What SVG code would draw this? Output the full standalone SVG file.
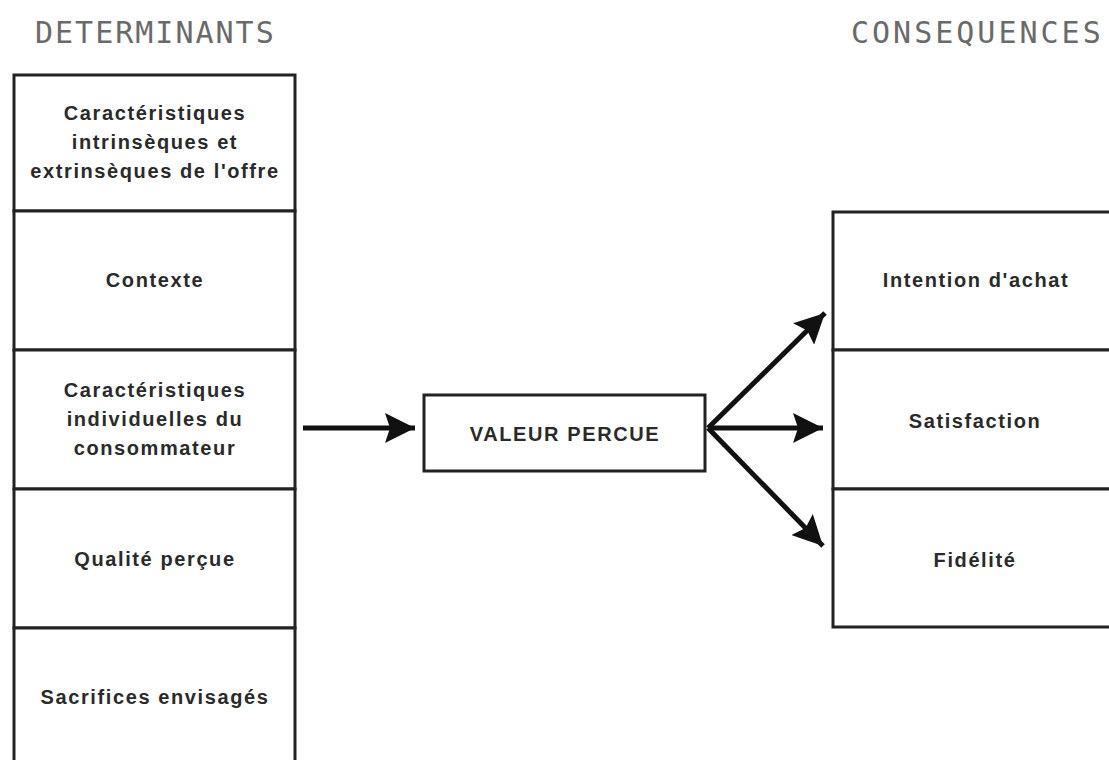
<svg xmlns="http://www.w3.org/2000/svg" width="1109" height="760" viewBox="0 0 1109 760">
<style>
.box{fill:#fff;stroke:#222;stroke-width:3}
.t{font-family:"Liberation Sans",Arial,sans-serif;font-weight:bold;font-size:20px;letter-spacing:1.6px;fill:#2a2a2a;text-anchor:middle}
.h{font-family:"DejaVu Sans Mono","Liberation Mono",monospace;font-size:30px;letter-spacing:2px;fill:#6a6a6a}
.c{fill:none;stroke:#111;stroke-width:5}
</style>
<defs>
<marker id="ah" markerUnits="userSpaceOnUse" markerWidth="32" markerHeight="30" refX="30" refY="15" orient="auto">
<path d="M0,0 L30,15 L0,30 L5,15 Z" fill="#111"/>
</marker>
</defs>
<rect width="1109" height="760" fill="#fff"/>
<text class="h" x="35" y="43">DETERMINANTS</text>
<text class="h" x="851" y="43" style="letter-spacing:3px">CONSEQUENCES</text>
<g id="d1"><rect class="box" x="14" y="75" width="281" height="136"/>
<text class="t" x="155" y="120">Caractéristiques</text><text class="t" x="155" y="149">intrinsèques et</text><text class="t" x="155" y="178">extrinsèques de l'offre</text></g>
<g id="d2"><rect class="box" x="14" y="211" width="281" height="139"/>
<text class="t" x="155" y="287">Contexte</text></g>
<g id="d3"><rect class="box" x="14" y="350" width="281" height="139"/>
<text class="t" x="155" y="397">Caractéristiques</text><text class="t" x="155" y="426">individuelles du</text><text class="t" x="155" y="455">consommateur</text></g>
<g id="d4"><rect class="box" x="14" y="489" width="281" height="139"/>
<text class="t" x="155" y="566">Qualité perçue</text></g>
<g id="d5"><rect class="box" x="14" y="628" width="281" height="139"/>
<text class="t" x="155" y="704">Sacrifices envisagés</text></g>
<g id="v"><rect class="box" x="424" y="395" width="281" height="76"/>
<text class="t" x="565" y="441">VALEUR PERCUE</text></g>
<g id="c1"><rect class="box" x="833" y="212" width="284" height="138"/>
<text class="t" x="976" y="287">Intention d'achat</text></g>
<g id="c2"><rect class="box" x="833" y="350" width="284" height="139"/>
<text class="t" x="975" y="428">Satisfaction</text></g>
<g id="c3"><rect class="box" x="833" y="489" width="284" height="138"/>
<text class="t" x="975" y="567">Fidélité</text></g>
<g id="connectors">
<line class="c" x1="303" y1="428" x2="415" y2="428" marker-end="url(#ah)"/>
<line class="c" x1="708" y1="428" x2="825" y2="313" marker-end="url(#ah)"/>
<line class="c" x1="708" y1="428" x2="823" y2="428" marker-end="url(#ah)"/>
<line class="c" x1="708" y1="428" x2="823" y2="546" marker-end="url(#ah)"/>
</g>
</svg>
